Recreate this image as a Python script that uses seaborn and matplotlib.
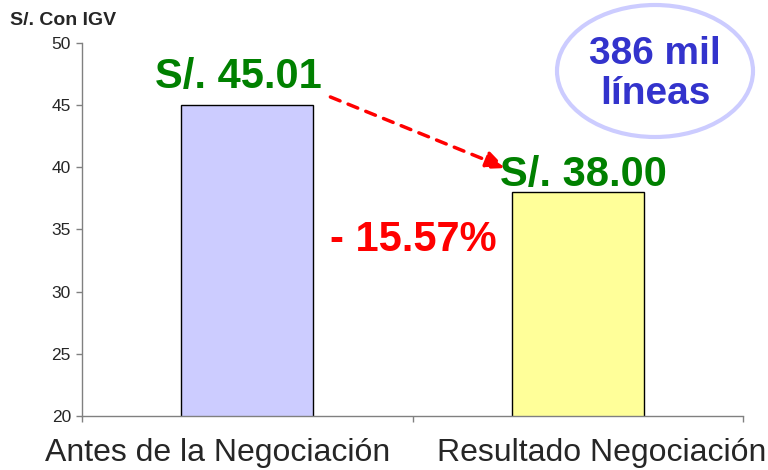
import numpy as np
import pandas as pd
import matplotlib
matplotlib.use("Agg")
import matplotlib.pyplot as plt
from matplotlib.patches import Ellipse
import seaborn as sns

# Data
categories = ["Antes de la Negociación", "Resultado Negociación"]
values = [45.01, 38.00]
bar_colors = ["#ccccff", "#ffff99"]
value_labels = ["S/. 45.01", "S/. 38.00"]
change_label = "- 15.57%"
y_ticks = [20, 25, 30, 35, 40, 45, 50]

sns.set_theme(style="white")
plt.rcParams["font.family"] = ["Liberation Sans", "DejaVu Sans"]

df = pd.DataFrame({"cat": categories, "val": values})

fig = plt.figure(figsize=(7.68, 4.7), dpi=100)
ax = fig.add_axes([82 / 768, 1 - 416 / 470, (743 - 82) / 768, (416 - 43) / 470])

sns.barplot(data=df, x="cat", y="val", hue="cat", palette=bar_colors,
            saturation=1, width=0.4, edgecolor="black", linewidth=1,
            legend=False, ax=ax)

ax.set_ylim(20, 50)
ax.set_xlim(-0.5, 1.5)
ax.set_yticks(y_ticks)
ax.set_yticklabels([str(t) for t in y_ticks], fontsize=12.5)
ax.set_xlabel("")
ax.set_ylabel("")

# ticks at category boundaries, labels as in the original (slightly offset)
ax.set_xticks([-0.5, 0.5, 1.5])
ax.set_xticklabels([])
ax.set_xticks([-0.091, 1.073], minor=True)
ax.set_xticklabels(categories, minor=True, fontsize=23)
ax.tick_params(axis="x", which="minor", length=0, pad=16)
ax.tick_params(axis="x", which="major", length=4, width=1, color="#808080",
               direction="out", bottom=True)
ax.tick_params(axis="y", length=4, width=1, color="#808080",
               direction="out", left=True, pad=4)

for side in ["top", "right"]:
    ax.spines[side].set_visible(False)
for side in ["left", "bottom"]:
    ax.spines[side].set_color("#808080")
    ax.spines[side].set_linewidth(1)

# value labels
ax.text(-0.027, 46.38, value_labels[0], color="#008000", fontsize=30,
        fontweight="bold", ha="center", va="baseline")
ax.text(1.017, 38.5, value_labels[1], color="#008000", fontsize=30,
        fontweight="bold", ha="center", va="baseline")
ax.text(0.5015, 33.27, change_label, color="#ff0000", fontsize=30,
        fontweight="bold", ha="center", va="baseline")

# dashed arrow
ax.annotate("", xy=(0.782, 39.94), xytext=(0.2515, 45.66),
            arrowprops=dict(arrowstyle="-|>,head_length=1.0,head_width=0.45",
                            color="#ff0000", lw=2.5, linestyle=(0, (3, 2.5)),
                            shrinkA=0, shrinkB=0))

# y-axis unit
fig.text(10 / 768, 1 - 25 / 470, "S/. Con IGV", fontsize=14,
         fontweight="bold", ha="left", va="baseline")

# ellipse callout
ell = Ellipse((655 / 768, 1 - 71 / 470), 196 / 768, 132 / 470,
              transform=fig.transFigure, facecolor="white",
              edgecolor="#ccccff", linewidth=3)
fig.patches.append(ell)
fig.text(655 / 768, 1 - 74 / 470, "386 mil\nlíneas", color="#3333cc",
         fontsize=28, fontweight="bold", ha="center", va="center",
         linespacing=1.15)

fig.savefig("out.png", dpi=100)
